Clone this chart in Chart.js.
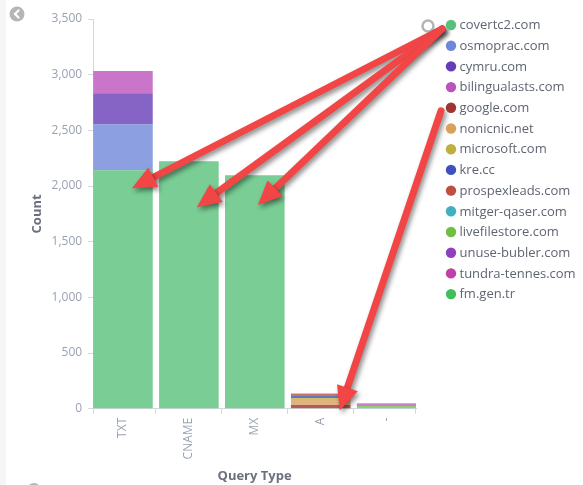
<!DOCTYPE html>
<html>
<head>
<meta charset="utf-8">
<script src="https://cdn.jsdelivr.net/npm/chart.js@4.4.1/dist/chart.umd.min.js"></script>
<style>
  html, body { margin: 0; padding: 0; background: #ffffff; }
  #wrap { position: relative; width: 583px; height: 485px; }
</style>
</head>
<body>
<div id="wrap"><canvas id="c" width="583" height="485"></canvas></div>
<script>
// ---- data ----
const categories = ['TXT', 'CNAME', 'MX', 'A', '-'];
const domains = ['covertc2.com', 'osmoprac.com', 'cymru.com', 'bilingualasts.com', 'google.com',
  'nonicnic.net', 'microsoft.com', 'kre.cc', 'prospexleads.com', 'mitger-qaser.com',
  'livefilestore.com', 'unuse-bubler.com', 'tundra-tennes.com', 'fm.gen.tr'];
const domainColors = ['#57c17b', '#6f87d8', '#663db8', '#bc52bc', '#9e3533',
  '#daa05d', '#bfaf40', '#4050bf', '#bf5040', '#40afbf',
  '#70bf40', '#8f40bf', '#bf40a7', '#40bf5c'];

const covertc2 = [2141, 2222, 2096, 0, 0];
const osmoprac = [414, 0, 0, 0, 0];
const cymru = [279, 0, 0, 0, 0];
const bilingualasts = [198, 0, 0, 0, 0];
const google = [0, 0, 0, 33, 0];
const nonicnic = [0, 0, 0, 45, 0];
const microsoft = [0, 0, 0, 18, 0];
const krecc = [0, 0, 0, 18, 0];
const prospexleads = [0, 0, 0, 22, 0];
const mitgerQaser = [0, 0, 0, 0, 14];
const livefilestore = [0, 0, 0, 0, 12];
const unuseBubler = [0, 0, 0, 0, 10];
const tundraTennes = [0, 0, 0, 0, 10];
const fmGenTr = [0, 0, 0, 0, 4];
const seriesValues = [covertc2, osmoprac, cymru, bilingualasts, google, nonicnic, microsoft,
  krecc, prospexleads, mitgerQaser, livefilestore, unuseBubler, tundraTennes, fmGenTr];

const yTickValues = [0, 500, 1000, 1500, 2000, 2500, 3000, 3500];

// annotation arrows: legend row -> category / value
const arrowFromRow = [0, 0, 0, 4];
const arrowToCategory = [0, 1, 2, 3];
const arrowToValue = [1980, 1810, 1830, -15];
const arrowToDx = [9, 8, 3, 19];

// ---- helpers ----
function hexToRgba(hex, a) {
  const n = parseInt(hex.slice(1), 16);
  return `rgba(${(n >> 16) & 255},${(n >> 8) & 255},${n & 255},${a})`;
}
const FONT = "'Open Sans', sans-serif";
const AXIS_COLOR = '#d3d7de';

const datasets = domains.map((name, i) => ({
  label: name,
  data: seriesValues[i].map((v, k) => ({ x: k, y: v === 0 ? null : v })),
  backgroundColor: hexToRgba(domainColors[i], 0.8),
  borderWidth: 0,
  barPercentage: 0.904,
  categoryPercentage: 1.0,
  stack: 's'
}));

function drawArrow(ctx, x1, y1, x2, y2) {
  const ang = Math.atan2(y2 - y1, x2 - x1);
  const headLen = 24, headHalf = 11;
  const bx = x2 - Math.cos(ang) * headLen * 0.8;
  const by = y2 - Math.sin(ang) * headLen * 0.8;
  ctx.save();
  ctx.shadowColor = 'rgba(0,0,0,0.45)';
  ctx.shadowBlur = 5;
  ctx.shadowOffsetX = 2;
  ctx.shadowOffsetY = 3;
  ctx.strokeStyle = '#f24646';
  ctx.fillStyle = '#f24646';
  ctx.lineWidth = 7;
  ctx.lineCap = 'round';
  ctx.beginPath();
  ctx.moveTo(x1, y1);
  ctx.lineTo(bx, by);
  ctx.stroke();
  const hx = x2 - Math.cos(ang) * headLen;
  const hy = y2 - Math.sin(ang) * headLen;
  ctx.beginPath();
  ctx.moveTo(x2, y2);
  ctx.lineTo(hx + Math.cos(ang + Math.PI / 2) * headHalf, hy + Math.sin(ang + Math.PI / 2) * headHalf);
  ctx.lineTo(hx - Math.cos(ang + Math.PI / 2) * headHalf, hy - Math.sin(ang + Math.PI / 2) * headHalf);
  ctx.closePath();
  ctx.fill();
  ctx.restore();
}

const decorPlugin = {
  id: 'decor',
  beforeDraw(chart) {
    const ctx = chart.ctx;
    ctx.save();
    ctx.fillStyle = '#f5f5f5';
    ctx.fillRect(0, 0, 6, chart.height);
    // back icon
    ctx.fillStyle = '#b5b5b5';
    ctx.beginPath(); ctx.arc(17, 14, 7.5, 0, Math.PI * 2); ctx.fill();
    ctx.strokeStyle = '#ffffff'; ctx.lineWidth = 2.2; ctx.lineCap = 'round';
    ctx.beginPath(); ctx.moveTo(18.5, 10.5); ctx.lineTo(15, 14); ctx.lineTo(18.5, 17.5); ctx.stroke();
    // bottom icon (partially visible)
    ctx.fillStyle = '#b5b5b5';
    ctx.beginPath(); ctx.arc(34, 490, 7, 0, Math.PI * 2); ctx.fill();
    ctx.restore();
  },
  afterDraw(chart) {
    const ctx = chart.ctx;
    const area = chart.chartArea;
    const xs = chart.scales.x, ys = chart.scales.y;
    // outer ticks at both ends of the x axis
    ctx.save();
    ctx.strokeStyle = AXIS_COLOR; ctx.lineWidth = 1;
    ctx.beginPath();
    ctx.moveTo(Math.round(area.left) + 0.5, area.bottom); ctx.lineTo(Math.round(area.left) + 0.5, area.bottom + 5);
    ctx.moveTo(Math.round(area.right) - 0.5, area.bottom); ctx.lineTo(Math.round(area.right) - 0.5, area.bottom + 5);
    ctx.stroke();
    ctx.restore();
    const dotX = area.right + 35;
    const rowY0 = area.top + 6;
    const rowStep = 20.7;
    // legend toggle ring
    ctx.save();
    ctx.strokeStyle = '#b4b4b4'; ctx.lineWidth = 2.5;
    ctx.beginPath(); ctx.arc(area.right + 12, rowY0 + 1, 5.5, 0, Math.PI * 2); ctx.stroke();
    ctx.restore();
    // arrows
    arrowFromRow.forEach((row, i) => {
      const sx = dotX - (row === 0 ? 9 : 10);
      const sy = rowY0 + row * rowStep + (row === 0 ? 4 : 3);
      const tx = xs.getPixelForValue(arrowToCategory[i]) + arrowToDx[i];
      const ty = ys.getPixelForValue(arrowToValue[i]);
      drawArrow(ctx, sx, sy, tx, ty);
    });
    // legend
    ctx.save();
    ctx.font = `13px ${FONT}`;
    ctx.textBaseline = 'middle';
    ctx.textAlign = 'left';
    domains.forEach((name, i) => {
      const y = rowY0 + i * rowStep;
      ctx.fillStyle = domainColors[i];
      ctx.beginPath(); ctx.arc(dotX, y, 5.2, 0, Math.PI * 2); ctx.fill();
      ctx.fillStyle = '#5f6571';
      ctx.fillText(name, dotX + 8.5, y + 0.5);
    });
    ctx.restore();
  }
};

new Chart(document.getElementById('c'), {
  type: 'bar',
  data: { datasets },
  plugins: [decorPlugin],
  options: {
    responsive: false,
    animation: false,
    events: [],
    layout: { padding: { left: 9, right: 167, top: 19, bottom: 0 } },
    plugins: { legend: { display: false }, tooltip: { enabled: false } },
    scales: {
      x: {
        type: 'linear',
        stacked: true,
        min: -0.452,
        max: 4.445,
        offset: false,
        afterBuildTicks: (s) => {
          s.ticks = categories.map((_, i) => ({ value: i }));
        },
        ticks: {
          autoSkip: false,
          minRotation: 90,
          maxRotation: 90,
          padding: 4,
          color: '#98a2b3',
          font: { family: FONT, size: 12 },
          callback: (v) => (Number.isInteger(v) ? categories[v] : '')
        },
        grid: { display: true, drawOnChartArea: false, drawTicks: true, tickLength: 5, color: AXIS_COLOR },
        border: { display: true, color: AXIS_COLOR },
        title: {
          display: true, text: 'Query Type', color: '#6a717d',
          font: { family: FONT, size: 13, weight: 'bold' },
          padding: { top: 5, bottom: 1 }
        }
      },
      y: {
        stacked: true,
        min: 0,
        max: 3500,
        afterBuildTicks: (s) => { s.ticks = yTickValues.map(v => ({ value: v })); },
        ticks: {
          padding: 6,
          color: '#98a2b3',
          font: { family: FONT, size: 12 },
          callback: (v) => v.toLocaleString('en-US')
        },
        grid: { display: true, drawOnChartArea: false, drawTicks: true, tickLength: 5, color: AXIS_COLOR },
        border: { display: true, color: AXIS_COLOR },
        title: {
          display: true, text: 'Count', color: '#6a717d',
          font: { family: FONT, size: 13, weight: 'bold' },
          padding: { top: 20, bottom: 1 }
        }
      }
    }
  }
});
</script>
</body>
</html>
